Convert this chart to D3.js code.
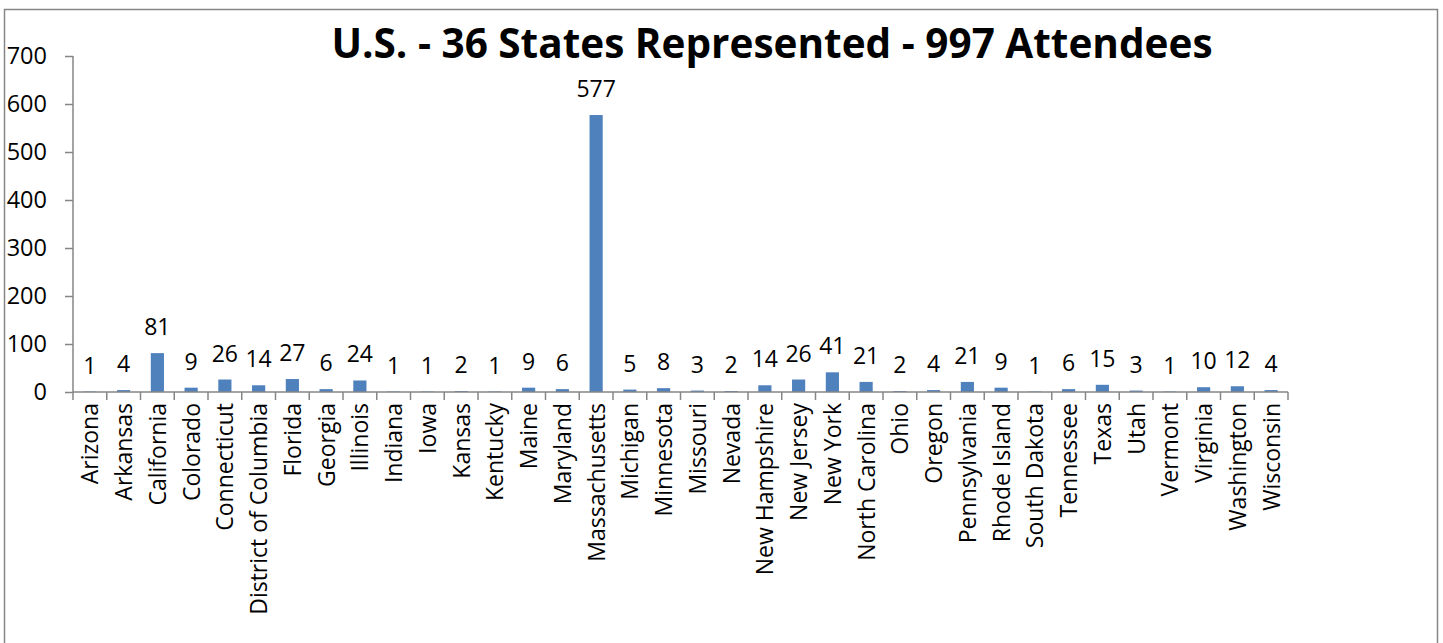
<!DOCTYPE html>
<html>
<head>
<meta charset="utf-8">
<script src="https://cdn.jsdelivr.net/npm/d3@7"></script>
<style>
  body { margin: 0; background: #fff; }
  text { font-family: "Open Sans", "Liberation Sans", sans-serif; }
</style>
</head>
<body>
<svg></svg>
<script>
const width = 1443;
const height = 643;

// Attendees by state
const states = ["Arizona", "Arkansas", "California", "Colorado", "Connecticut",
  "District of Columbia", "Florida", "Georgia", "Illinois", "Indiana", "Iowa",
  "Kansas", "Kentucky", "Maine", "Maryland", "Massachusetts", "Michigan",
  "Minnesota", "Missouri", "Nevada", "New Hampshire", "New Jersey", "New York",
  "North Carolina", "Ohio", "Oregon", "Pennsylvania", "Rhode Island",
  "South Dakota", "Tennessee", "Texas", "Utah", "Vermont", "Virginia",
  "Washington", "Wisconsin"];
const attendees = [1, 4, 81, 9, 26, 14, 27, 6, 24, 1, 1, 2, 1, 9, 6, 577, 5, 8,
  3, 2, 14, 26, 41, 21, 2, 4, 21, 9, 1, 6, 15, 3, 1, 10, 12, 4];
const yTicks = [0, 100, 200, 300, 400, 500, 600, 700];
const title = "U.S. - 36 States Represented - 997 Attendees";

const data = states.map((s, i) => ({ state: s, value: attendees[i] }));

const margin = { left: 73, right: 155, top: 56, axisY: 392 };

const svg = d3.select("svg").attr("width", width).attr("height", height);

// chart border
svg.append("rect")
  .attr("x", 4.5).attr("y", 9.5)
  .attr("width", 1433).attr("height", 660)
  .attr("fill", "none")
  .attr("stroke", "#868686")
  .attr("stroke-width", 1.5);

const x = d3.scaleBand()
  .domain(states)
  .range([margin.left, width - margin.right])
  .paddingInner(0.61)
  .paddingOuter(0.305);

const y = d3.scaleLinear()
  .domain([0, 700])
  .range([margin.axisY, margin.top]);

// y axis
const yAxis = svg.append("g")
  .attr("transform", `translate(${margin.left},0)`)
  .call(d3.axisLeft(y).tickValues(yTicks).tickSize(8).tickPadding(18));
yAxis.selectAll("path, line").attr("stroke", "#868686").attr("stroke-width", 1.5);
yAxis.select(".domain").attr("d", `M0,${y(700)}V${y(0)}`);
yAxis.selectAll("text")
  .attr("font-size", 23.5)
  .attr("fill", "#000")
  .style("font-family", "'Open Sans', sans-serif");

// bars
svg.append("g")
  .selectAll("rect")
  .data(data)
  .join("rect")
  .attr("x", (d) => x(d.state))
  .attr("y", (d) => y(d.value))
  .attr("width", x.bandwidth())
  .attr("height", (d) => y(0) - y(d.value))
  .attr("fill", "#4f81bd");

// x axis (ticks on category boundaries)
const step = x.step();
const x0 = margin.left;
const xAxis = svg.append("g");
xAxis.append("line")
  .attr("x1", x0).attr("x2", x0 + step * states.length)
  .attr("y1", y(0)).attr("y2", y(0))
  .attr("stroke", "#868686").attr("stroke-width", 1.5);
xAxis.selectAll("line.tick")
  .data(d3.range(states.length + 1))
  .join("line")
  .attr("class", "tick")
  .attr("x1", (i) => x0 + i * step).attr("x2", (i) => x0 + i * step)
  .attr("y1", y(0)).attr("y2", y(0) + 8)
  .attr("stroke", "#868686").attr("stroke-width", 1.5);
xAxis.selectAll("text")
  .data(data)
  .join("text")
  .attr("transform", (d) => `translate(${x(d.state) + x.bandwidth() / 2 + 8.5},${y(0) + 11}) rotate(-90)`)
  .attr("text-anchor", "end")
  .attr("font-size", 23)
  .text((d) => d.state);

// data labels
svg.append("g")
  .selectAll("text")
  .data(data)
  .join("text")
  .attr("x", (d) => x(d.state) + x.bandwidth() / 2)
  .attr("y", (d) => y(d.value) - 18)
  .attr("text-anchor", "middle")
  .attr("font-size", 23)
  .text((d) => d.value);

// title
svg.append("text")
  .attr("x", 772)
  .attr("y", 58)
  .attr("text-anchor", "middle")
  .attr("font-size", 40.5)
  .attr("font-weight", "bold")
  .text(title);
</script>
</body>
</html>
